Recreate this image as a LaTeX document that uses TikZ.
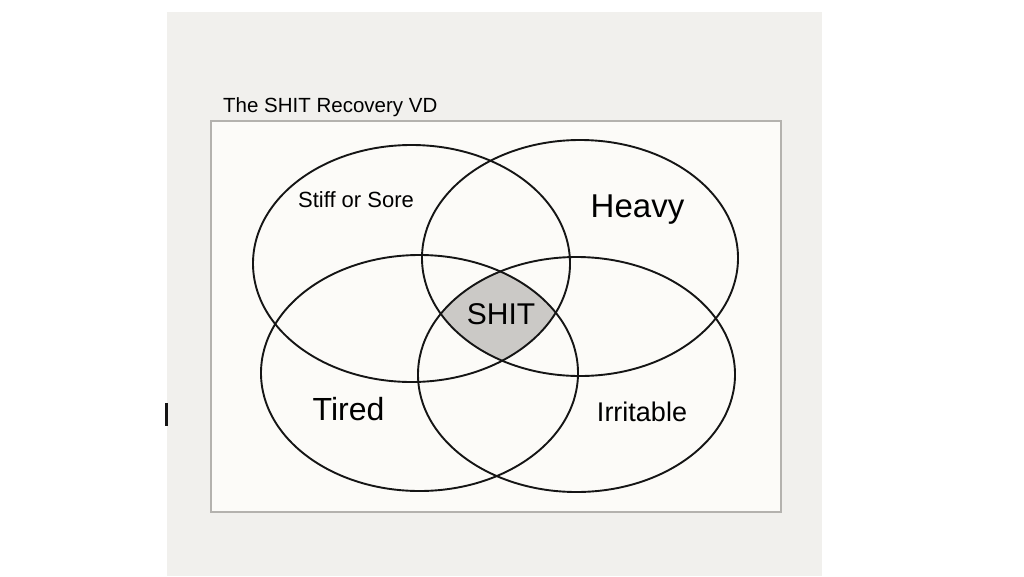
\documentclass[tikz,border=0pt]{standalone}
\usepackage{fontspec}
\setmainfont{Liberation Sans}
\definecolor{panelbg}{HTML}{F1F0ED}
\definecolor{boxbg}{HTML}{FCFBF8}
\definecolor{boxline}{HTML}{B4B2AE}
\definecolor{shitfill}{HTML}{CBC9C6}
\definecolor{ink}{HTML}{151515}
\tikzset{
  venn/.style={draw=ink, line width=1.9pt},
  lbl/.style={inner sep=0pt, text=black, anchor=base},
}
\begin{document}
\begin{tikzpicture}[x=1pt,y=-1pt]
\useasboundingbox (0,0) rectangle (1024,576);
\fill[white] (0,0) rectangle (1024,576);
\fill[panelbg] (167,12) rectangle (822,576);
\fill[ink] (164.5,403) rectangle (168,426);
\draw[boxline, fill=boxbg, line width=1.2pt] (211,121) rectangle (781,512);
\coordinate (tl) at (411.5,263.5);
\coordinate (tr) at (580,258);
\coordinate (bl) at (419.5,373);
\coordinate (br) at (576.5,374.5);
\begin{scope}
  \clip (tl) ellipse [x radius=158.5, y radius=118.5];
  \clip (tr) ellipse [x radius=158, y radius=118];
  \clip (bl) ellipse [x radius=158.5, y radius=118];
  \fill[shitfill] (br) ellipse [x radius=158.5, y radius=117.5];
\end{scope}
\draw[venn] (tl) ellipse [x radius=158.5, y radius=118.5];
\draw[venn] (tr) ellipse [x radius=158, y radius=118];
\draw[venn] (bl) ellipse [x radius=158.5, y radius=118];
\draw[venn] (br) ellipse [x radius=158.5, y radius=117.5];
\node[lbl, anchor=base west, font=\fontsize{20.5}{24}\selectfont] (title) at (223,112) {The SHIT Recovery VD};
\node[lbl, font=\fontsize{22}{26}\selectfont] (stiff) at (356,207) {Stiff or Sore};
\node[lbl, font=\fontsize{33}{38}\selectfont] (heavy) at (637.5,217) {Heavy};
\node[lbl, font=\fontsize{30}{34}\selectfont] (shit) at (501,324) {SHIT};
\node[lbl, font=\fontsize{32}{38}\selectfont] (tired) at (348.5,420) {Tired};
\node[lbl, font=\fontsize{27}{32}\selectfont] (irritable) at (642,421) {Irritable};
\end{tikzpicture}
\end{document}
